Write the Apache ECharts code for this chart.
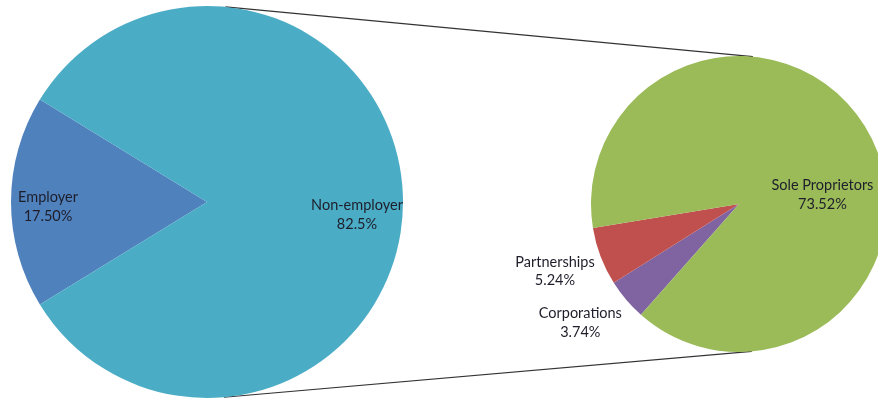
<!DOCTYPE html>
<html><head><meta charset="utf-8">
<script src="https://cdn.jsdelivr.net/npm/echarts@6/dist/echarts.min.js"></script>
<style>html,body{margin:0;padding:0;background:#fff}#c{width:878px;height:400px}</style>
</head><body><div id="c"></div>
<script>
const mainCategories = ['Employer', 'Non-employer'];
const mainValues = [17.50, 82.5];
const mainLabels = ['17.50%', '82.5%'];
const subCategories = ['Corporations', 'Partnerships', 'Sole Proprietors'];
const subValues = [3.74, 5.24, 73.52];
const subLabels = ['3.74%', '5.24%', '73.52%'];

const mainColors = ['#4F81BD', '#4BACC6'];
const subColors = ['#8064A2', '#C0504D', '#9BBB59'];

const C1 = [207, 202], R1 = 196;
const C2 = [739, 204], R2 = 148;

// label offsets from the default inside position
const mainOffsets = [[-58, 5], [49, 13]];
const subOffsets = [[-100, 69], [-112, 40], [16, 28]];

// external tangent lines between the two pies
function tangents() {
  const dx = C2[0] - C1[0], dy = C2[1] - C1[1];
  const d = Math.hypot(dx, dy);
  const base = Math.atan2(dy, dx);
  const a = Math.acos((R1 - R2) / d);
  const res = [];
  [base - a, base + a].forEach(t => {
    res.push([C1[0] + R1 * Math.cos(t), C1[1] + R1 * Math.sin(t), C2[0] + R2 * Math.cos(t), C2[1] + R2 * Math.sin(t)]);
  });
  return res;
}

const font = 'Lato';
const labelStyle = { color: '#1e1e2a', fontFamily: font, fontSize: 14.5, lineHeight: 18.5, align: 'center' };

const chart = echarts.init(document.getElementById('c'), null, { renderer: 'canvas' });
chart.setOption({
  animation: false,
  backgroundColor: '#fff',
  graphic: tangents().map(p => ({
    type: 'line', z: 0,
    shape: { x1: p[0], y1: p[1], x2: p[2], y2: p[3] },
    style: { stroke: '#333', lineWidth: 1.2 }
  })),
  series: [
    {
      type: 'pie', center: C1, radius: [0, R1], startAngle: 211.5, clockwise: true,
      avoidLabelOverlap: false, silent: true,
      itemStyle: { borderWidth: 0 },
      label: Object.assign({ show: true, position: 'inside',
        formatter: p => p.name + '\n' + mainLabels[p.dataIndex] }, labelStyle),
      labelLine: { show: false },
      labelLayout: p => ({ dx: mainOffsets[p.dataIndex][0], dy: mainOffsets[p.dataIndex][1] }),
      data: mainCategories.map((n, i) => ({ name: n, value: mainValues[i], itemStyle: { color: mainColors[i] } }))
    },
    {
      type: 'pie', center: C2, radius: [0, R2], startAngle: 228.5, clockwise: true,
      avoidLabelOverlap: false, silent: true,
      itemStyle: { borderWidth: 0 },
      label: Object.assign({ show: true, position: 'inside',
        formatter: p => p.name + '\n' + subLabels[p.dataIndex] }, labelStyle),
      labelLine: { show: false },
      labelLayout: p => ({ dx: subOffsets[p.dataIndex][0], dy: subOffsets[p.dataIndex][1] }),
      data: subCategories.map((n, i) => ({ name: n, value: subValues[i], itemStyle: { color: subColors[i] } }))
    }
  ]
});
</script></body></html>
